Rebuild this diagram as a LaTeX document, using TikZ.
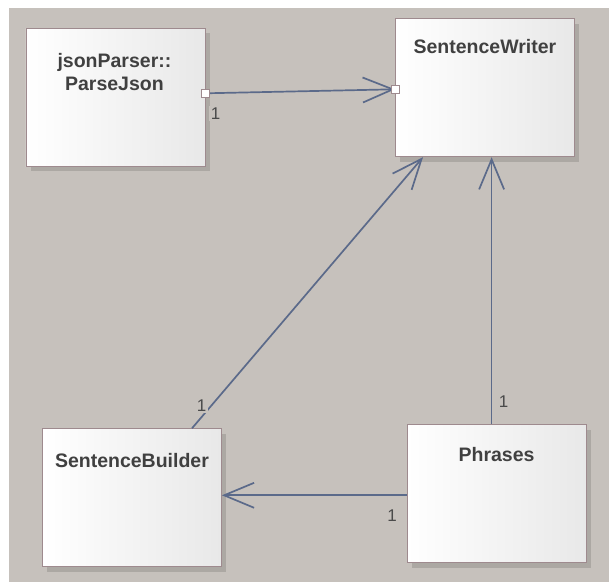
\documentclass[tikz,border=0pt]{standalone}
\usepackage{fontspec}
\setmainfont{Liberation Sans}
\usetikzlibrary{calc,arrows.meta,shadows}

\definecolor{canvasbg}{HTML}{C6C1BC}
\definecolor{frameclr}{HTML}{9E8A8E}
\definecolor{linkclr}{HTML}{5B6A8A}
\definecolor{titleclr}{HTML}{404040}
\definecolor{multclr}{HTML}{4A4A4A}

\tikzset{
  classbox/.style={draw=frameclr, line width=0.9bp, rectangle,
    minimum width=179bp, minimum height=138bp, anchor=north west,
    inner sep=0pt, left color=white, right color=black!9,
    drop shadow={shadow xshift=5bp, shadow yshift=-5bp, fill=black, opacity=0.13}},
  classtitle/.style={text=titleclr, font=\fontsize{19.5bp}{23bp}\selectfont\bfseries,
    align=center, anchor=base},
  link/.style={draw=linkclr, line width=1.7bp},
  openhead/.style={-{Straight Barb[length=30bp,width=25bp,line width=1.7bp]}},
  portsq/.style={draw=frameclr, fill=white, line width=0.8bp, rectangle,
    minimum size=8bp, inner sep=0pt},
  mult/.style={text=multclr, font=\fontsize{17bp}{19bp}\selectfont,
    fill=canvasbg, inner sep=1.5bp},
}

\begin{document}
\begin{tikzpicture}[x=1bp, y=-1bp]
  % canvas
  \useasboundingbox (0,0) rectangle (609,582);
  \fill[white] (0,0) rectangle (609,582);
  \fill[canvasbg] (8.5,8) rectangle (609,582);

  % classes
  \node[classbox] (jp) at (25.5,27.7) {};
  \node[classbox] (sw) at (395,18.3) {};
  \node[classbox] (sb) at (42,428.3) {};
  \node[classbox] (ph) at (406.6,424.3) {};

  % class names (a two-line name sits on its last baseline)
  \node[classtitle] (jpname) at ($(jp.north)+(-1,62.5)$) {jsonParser::\\ParseJson};
  \node[classtitle] (swname) at ($(sw.north)+(0,35.5)$) {SentenceWriter};
  \node[classtitle] (sbname) at ($(sb.north)+(0,39)$) {SentenceBuilder};
  \node[classtitle] (phname) at ($(ph.north)+(0,37.5)$) {Phrases};

  % connector end points
  \coordinate (jpout) at ($(jp.north east)+(0,65.6)$);
  \coordinate (swin) at ($(sw.north west)+(0,71)$);
  \coordinate (sbout) at ($(sb.north west)+(150,0)$);
  \coordinate (swbot) at ($(sw.south west)+(28,0)$);
  \coordinate (phup) at ($(ph.north west)+(85,0)$);
  \coordinate (phleft) at ($(ph.north west)+(0,71)$);

  % associations
  \draw[link, openhead] (jpout) -- (swin);
  \draw[link, openhead] (sbout) -- (swbot);
  \draw[link, openhead] (phup) -- (phup |- sw.south);
  \draw[link, openhead] (phleft) -- (phleft -| sb.east);

  % association end markers
  \node[portsq] (jpport) at (jpout) {};
  \node[portsq] (swport) at (swin) {};

  % multiplicities
  \node[mult] (m1) at (215.7,113.5) {1};
  \node[mult] (m2) at (201.7,406) {1};
  \node[mult] (m3) at (503.5,401.5) {1};
  \node[mult] (m4) at (392,515.5) {1};
\end{tikzpicture}
\end{document}
